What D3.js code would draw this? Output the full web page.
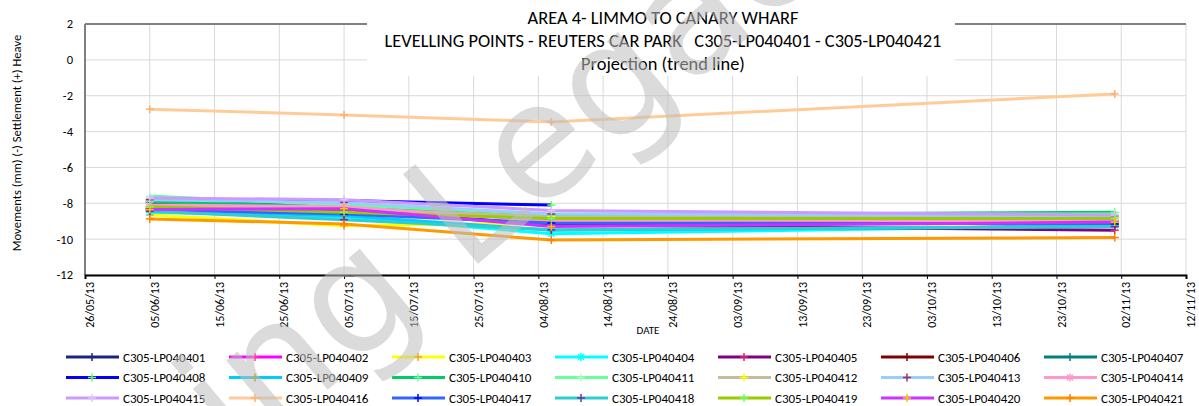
<!DOCTYPE html>
<html>
<head>
<meta charset="utf-8">
<script src="https://cdn.jsdelivr.net/npm/d3@7"></script>
<style>
  body { margin: 0; background: #fff; }
  svg { display: block; font-family: Carlito, "Liberation Sans Narrow", "Liberation Sans", Arial, sans-serif; }
</style>
</head>
<body>
<svg id="chart" width="1199" height="406"></svg>
<script>
// survey dates (dd/mm/yy)
let surveyDates = ["05/06/13", "05/07/13", "06/08/13", "01/11/13"];

// axis tick labels (every 10 days)
let tickLabels = ["26/05/13", "05/06/13", "15/06/13", "25/06/13", "05/07/13", "15/07/13",
    "25/07/13", "04/08/13", "14/08/13", "24/08/13", "03/09/13", "13/09/13", "23/09/13",
    "03/10/13", "13/10/13", "23/10/13", "02/11/13", "12/11/13"];
let yTicks = [2, 0, -2, -4, -6, -8, -10, -12];

let pointNames = ["C305-LP040401", "C305-LP040402", "C305-LP040403", "C305-LP040404",
    "C305-LP040405", "C305-LP040406", "C305-LP040407", "C305-LP040408", "C305-LP040409",
    "C305-LP040410", "C305-LP040411", "C305-LP040412", "C305-LP040413", "C305-LP040414",
    "C305-LP040415", "C305-LP040416", "C305-LP040417", "C305-LP040418", "C305-LP040419",
    "C305-LP040420", "C305-LP040421"];

// movements (mm) per point, one value per survey date (null = not surveyed)
let lp401 = [-7.95, -8.05, -8.9, -9.2];
let lp402 = [-8.3, -8.35, -9.2, -9.0];
let lp403 = [-8.65, -9.25, -9.1, -9.05];
let lp404 = [-8.5, -8.75, -9.7, -9.25];
let lp405 = [-8.3, -8.4, -9.2, -9.5];
let lp406 = [-8.2, -8.3, -8.9, -9.0];
let lp407 = [-7.9, -8.2, -8.8, -9.15];
let lp408 = [-7.75, -7.85, -8.1, null];
let lp409 = [-8.4, -8.7, -9.5, -9.3];
let lp410 = [-7.9, -8.2, -8.65, -8.5];
let lp411 = [-7.6, -8.1, -8.6, -8.6];
let lp412 = [-8.2, -8.3, -8.75, -8.8];
let lp413 = [-7.8, -7.95, -8.6, -8.7];
let lp414 = [-8.1, -8.2, -9.0, -8.95];
let lp415 = [-7.7, -7.8, -8.4, -8.65];
let lp416 = [-2.75, -3.07, -3.46, -1.9];
let lp417 = [-8.35, -8.6, -9.1, -9.15];
let lp418 = [-8.45, -8.92, -9.48, -9.3];
let lp419 = [-8.2, -8.5, -8.85, -8.85];
let lp420 = [-8.35, -8.3, -9.3, -9.05];
let lp421 = [-8.87, -9.15, -10.05, -9.91];

let allValues = [lp401, lp402, lp403, lp404, lp405, lp406, lp407, lp408, lp409, lp410,
    lp411, lp412, lp413, lp414, lp415, lp416, lp417, lp418, lp419, lp420, lp421];

let lineColors = ["#1c2383", "#ff00ff", "#ffff00", "#00ffff", "#800080", "#800000", "#008080",
    "#0000ff", "#00ccff", "#00cc66", "#66ff99", "#c4bd97", "#99ccff", "#ff99cc",
    "#cc99ff", "#ffcc99", "#3366ff", "#33cccc", "#99cc00", "#cc33ff", "#ff9900"];
let markerColors = ["#1c2383", "#ff3399", "#f0a030", "#00ffff", "#e0206e", "#800000", "#008080",
    "#66ff66", "#999900", "#66ff99", "#b0ffc8", "#ffff00", "#993366", "#ff99cc",
    "#e0c0ff", "#ffb070", "#0000ff", "#7030a0", "#66ff66", "#ffc000", "#ff8000"];
let markerShapes = ["plus", "plus", "plus", "star", "plus", "plus", "plus", "plus", "plus",
    "plus", "plus", "plus", "plus", "star", "plus", "plus", "plus", "plus", "plus", "plus", "plus"];

let parseDate = d3.timeParse("%d/%m/%y");

let svg = d3.select("#chart");
let margin = { top: 24, left: 85, right: 1186, bottom: 275 };

let x = d3.scaleTime()
    .domain([parseDate(tickLabels[0]), parseDate(tickLabels[tickLabels.length - 1])])
    .range([margin.left, margin.right]);
let y = d3.scaleLinear().domain([-12, 2]).range([margin.bottom, margin.top]);

// gridlines
let grid = svg.append("g");
grid.selectAll("line.h").data(yTicks).enter().append("line")
    .attr("x1", margin.left).attr("x2", margin.right)
    .attr("y1", d => y(d)).attr("y2", d => y(d))
    .attr("stroke", "#d9d9d9").attr("stroke-width", 1);
grid.selectAll("line.v").data(tickLabels.slice(1)).enter().append("line")
    .attr("x1", d => x(parseDate(d))).attr("x2", d => x(parseDate(d)))
    .attr("y1", margin.top).attr("y2", margin.bottom)
    .attr("stroke", "#d9d9d9").attr("stroke-width", 1);

// frame: top and left in grey
svg.append("line").attr("x1", margin.left).attr("x2", margin.right)
    .attr("y1", margin.top).attr("y2", margin.top)
    .attr("stroke", "#808080").attr("stroke-width", 2);
svg.append("line").attr("x1", margin.left).attr("x2", margin.left)
    .attr("y1", margin.top).attr("y2", margin.bottom)
    .attr("stroke", "#808080").attr("stroke-width", 2);

// y axis labels
svg.append("g").selectAll("text").data(yTicks).enter().append("text")
    .attr("x", 73).attr("y", d => y(d)).attr("dy", "0.35em")
    .attr("text-anchor", "end").style("font-size", "12.5px").attr("fill", "#000")
    .text(d => d);

svg.append("text")
    .attr("transform", "translate(21,143) rotate(-90)")
    .attr("text-anchor", "middle").style("font-size", "12.6px").attr("fill", "#000")
    .text("Movements (mm) (-) Settlement (+) Heave");

// x axis
let xAxis = svg.append("g")
    .attr("transform", "translate(0," + margin.bottom + ")")
    .call(d3.axisBottom(x)
        .tickValues(tickLabels.map(parseDate))
        .tickSize(4)
        .tickFormat(""));
xAxis.select(".domain").attr("stroke", "#000").attr("stroke-width", 2);
xAxis.selectAll(".tick line").attr("stroke", "#000");

svg.append("g").selectAll("text").data(tickLabels).enter().append("text")
    .attr("transform", d => "translate(" + (x(parseDate(d)) + 5) + ",282) rotate(-90)")
    .attr("text-anchor", "end").attr("dy", "0.35em")
    .style("font-size", "12px").attr("fill", "#000")
    .text(d => d);

svg.append("text").attr("x", 648).attr("y", 334)
    .attr("text-anchor", "middle").style("font-size", "11px").attr("fill", "#000")
    .text("DATE");

// series
let line = d3.line()
    .defined(d => d.v !== null)
    .x(d => x(d.date))
    .y(d => y(d.v));

function drawMarker(g, shape, color, cx, cy) {
    let s = 4;
    g.append("line").attr("x1", cx - s).attr("x2", cx + s).attr("y1", cy).attr("y2", cy)
        .attr("stroke", color).attr("stroke-width", 1.5);
    g.append("line").attr("x1", cx).attr("x2", cx).attr("y1", cy - s).attr("y2", cy + s)
        .attr("stroke", color).attr("stroke-width", 1.5);
    if (shape === "star") {
        g.append("line").attr("x1", cx - 3).attr("x2", cx + 3).attr("y1", cy - 3).attr("y2", cy + 3)
            .attr("stroke", color).attr("stroke-width", 1.2);
        g.append("line").attr("x1", cx - 3).attr("x2", cx + 3).attr("y1", cy + 3).attr("y2", cy - 3)
            .attr("stroke", color).attr("stroke-width", 1.2);
    }
}

let series = svg.append("g");
for (let i = 0; i < allValues.length; i++) {
    let data = allValues[i].map((v, j) => ({ date: parseDate(surveyDates[j]), v: v }));
    series.append("path").datum(data)
        .attr("fill", "none")
        .attr("stroke", lineColors[i])
        .attr("stroke-width", 3)
        .attr("stroke-linejoin", "round")
        .attr("d", line);
    let mg = series.append("g");
    data.filter(d => d.v !== null).forEach(d => {
        drawMarker(mg, markerShapes[i], markerColors[i], x(d.date), y(d.v));
    });
}

// title box
svg.append("rect").attr("x", 367).attr("y", 0).attr("width", 588).attr("height", 76).attr("fill", "#fff");
let titleLines = ["AREA 4- LIMMO TO CANARY WHARF",
    "LEVELLING POINTS - REUTERS CAR PARK   C305-LP040401 - C305-LP040421",
    "Projection (trend line)"];
svg.append("g").selectAll("text").data(titleLines).enter().append("text")
    .attr("x", 663).attr("y", (d, i) => 24 + i * 23)
    .attr("text-anchor", "middle").style("font-size", "18.4px").attr("fill", "#000")
    .style("white-space", "pre").attr("xml:space", "preserve")
    .text(d => d);

// legend
let legend = svg.append("g");
for (let i = 0; i < pointNames.length; i++) {
    let col = i % 7, row = Math.floor(i / 7);
    let lx = 66 + col * 163, ly = 357 + row * 20.5;
    legend.append("line").attr("x1", lx).attr("x2", lx + 53).attr("y1", ly).attr("y2", ly)
        .attr("stroke", lineColors[i]).attr("stroke-width", 3);
    drawMarker(legend, markerShapes[i], markerColors[i], lx + 26, ly);
    legend.append("text").attr("x", lx + 57).attr("y", ly).attr("dy", "0.35em")
        .style("font-size", "13px").attr("fill", "#000")
        .text(pointNames[i]);
}

// watermark
svg.append("text")
    .attr("transform", "translate(-105,753) rotate(-40)")
    .style("font-size", "160px").style("font-family", "'DejaVu Sans', sans-serif")
    .attr("fill", "#bfbfbf").attr("opacity", 0.55)
    .text("Learning Legacy");
</script>
</body>
</html>
